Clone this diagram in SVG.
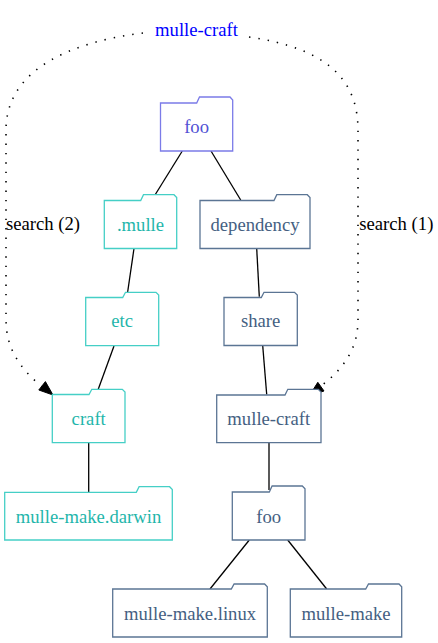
<svg xmlns="http://www.w3.org/2000/svg" width="438" height="643" viewBox="0 0 438 643">
<style>
text{font-family:"Times New Roman","Liberation Serif",Times,"DejaVu Serif",serif;font-size:18.67px}
.c{text-anchor:middle}
.f{fill:#fff;stroke-width:1.3}
.b path{stroke:#7b7be8}.b text{fill:#5252d4}
.t path{stroke:#45cfc6}.t text{fill:#1fb6ab}
.d path{stroke:#5b7594}.d text{fill:#455f82}
.e line{stroke:#000;stroke-width:1.3}
.dot{fill:none;stroke:#000;stroke-width:1.6;stroke-dasharray:1.4 8}
</style>
<rect width="438" height="643" fill="#fff"/>
<g id="connectors" class="e">
<line x1="182.3" y1="151" x2="155" y2="195"/>
<line x1="211" y1="151" x2="240.7" y2="200"/>
<line x1="134" y1="248.5" x2="127.5" y2="293"/>
<line x1="114" y1="346" x2="96.7" y2="393.5"/>
<line x1="256.7" y1="248.5" x2="259.3" y2="296.7"/>
<line x1="262.7" y1="345.5" x2="266.7" y2="394.5"/>
<line x1="88.7" y1="443" x2="88.7" y2="492.3"/>
<line x1="269" y1="443" x2="269" y2="490"/>
<line x1="249.3" y1="540" x2="210" y2="589"/>
<line x1="287.7" y1="540" x2="326.7" y2="589"/>
<path class="dot" d="M143,33 C70,42 6,70 6,130 L6,320 C6,350 22,370 41,386"/>
<polygon points="53,395 38.8,390 45.4,381.6" fill="#000" stroke="#000"/>
<path class="dot" d="M249,37 C325,48 358,78 358,130 L358,320 C358,350 342,370 321,386"/>
<polygon points="309.5,395.5 324,391 317.8,382.3" fill="#000" stroke="#000"/>
<text x="6" y="230">search (2)</text>
<text x="359.3" y="229.5">search (1)</text>
</g>
<g id="label-mulle-craft"><text class="c" x="196.5" y="36" fill="#0000ff">mulle-craft</text></g>
<g id="foo" class="b"><path class="f" d="M160.5,103 H196.7 L199.5,97 H230 L232.7,100 V151 H160.5 Z"/><text class="c" x="196.6" y="133.3">foo</text></g>
<g id="mulle" class="t"><path class="f" d="M104.3,200.5 H140.7 L143.5,194.7 H174 L176.7,197.5 V248.5 H104.3 Z"/><text class="c" x="140.5" y="230.5">.mulle</text></g>
<g id="dependency" class="d"><path class="f" d="M200,200.5 H274 L276.8,194.7 H307.3 L310,197.5 V248.5 H200 Z"/><text class="c" x="255" y="230.5">dependency</text></g>
<g id="etc" class="t"><path class="f" d="M85.7,297.5 H122.7 L125.5,292.3 H156 L158.7,295 V345.7 H85.7 Z"/><text class="c" x="122.2" y="327.3">etc</text></g>
<g id="share" class="d"><path class="f" d="M224,297.5 H261.3 L264,292.3 H294.5 L297.3,295 V345.5 H224 Z"/><text class="c" x="260.7" y="327">share</text></g>
<g id="craft" class="t"><path class="f" d="M52.3,394.5 H89 L91.8,389.3 H122.3 L125,392 V442.7 H52.3 Z"/><text class="c" x="88.7" y="425">craft</text></g>
<g id="mulle-craft" class="d"><path class="f" d="M216.7,395 H285 L287.8,389.3 H318.3 L321,392 V442.7 H216.7 Z"/><text class="c" x="268.8" y="425">mulle-craft</text></g>
<g id="mulle-make-darwin" class="t"><path class="f" d="M4.7,492.3 H136.3 L139.1,486.7 H169.6 L172.3,489.5 V540 H4.7 Z"/><text class="c" x="88.5" y="522.5">mulle-make.darwin</text></g>
<g id="foo2" class="d"><path class="f" d="M232.3,492 H269.3 L272.1,486 H302.3 L305,488.8 V540 H232.3 Z"/><text class="c" x="268.7" y="522.5">foo</text></g>
<g id="mulle-make-linux" class="d"><path class="f" d="M112.7,589 H231.3 L234.1,584 H264.6 L267.3,586.8 V637 H112.7 Z"/><text class="c" x="190" y="620">mulle-make.linux</text></g>
<g id="mulle-make" class="d"><path class="f" d="M290.3,589 H365.7 L368.5,584 H399 L401.7,586.8 V637 H290.3 Z"/><text class="c" x="346" y="620">mulle-make</text></g>
</svg>
